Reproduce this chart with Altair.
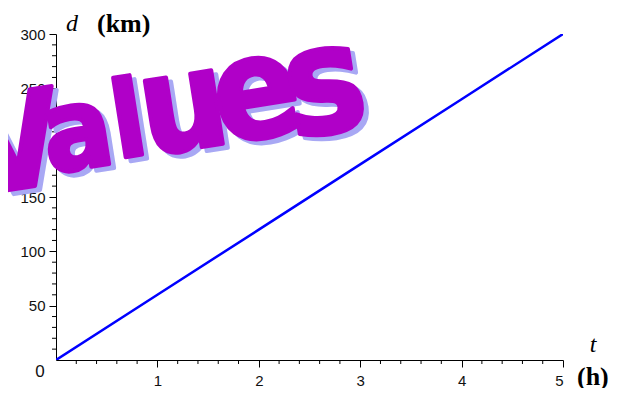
import altair as alt
import pandas as pd

# ---- data ----
t_hours = [0, 1, 2, 3, 4, 5]
d_km = [0, 60, 120, 180, 240, 300]

x_major = [1, 2, 3, 4, 5]
x_minor = [0.2, 0.4, 0.6, 0.8, 1.2, 1.4, 1.6, 1.8, 2.2, 2.4, 2.6, 2.8,
           3.2, 3.4, 3.6, 3.8, 4.2, 4.4, 4.6, 4.8]
y_major = [50, 100, 150, 200, 250, 300]
y_minor = [10, 20, 30, 40, 60, 70, 80, 90, 110, 120, 130, 140, 160, 170, 180, 190,
           210, 220, 230, 240, 260, 270, 280, 290]

wordart_letters = ["V", "a", "l", "u", "e", "s"]

# ---- styling / layout (pixels relative to the plot area) ----
W, H = 507, 326
LETTER_LAYOUT = [  # (x, y baseline, font size)
    (-34, 154, 132),
    (27, 134, 114),
    (78, 122, 106),
    (134, 115, 136),
    (207, 103, 142),
    (276, 98, 150),
]
WA_FONT = "Liberation Sans Narrow, DejaVu Sans Condensed, Liberation Sans"
PURPLE = "#B000C8"
SHADOW = "#A8A8F4"
LABEL_FONT = "Liberation Sans"

df = pd.DataFrame({"t": t_hours, "d": d_km})

common = dict(title=None, grid=False, domainColor="black", tickColor="black",
              labelFont=LABEL_FONT, labelFontSize=15, labelColor="#111",
              labelOverlap=False)

x_scale = alt.Scale(domain=[0, 5], nice=False)
y_scale = alt.Scale(domain=[0, 300], nice=False)
x_axis = alt.Axis(values=x_major, tickSize=7, labelPadding=6, format="d", **common)
y_axis = alt.Axis(values=y_major, tickSize=7, labelPadding=4, **common)
X = alt.X("t:Q", scale=x_scale, axis=x_axis)
Y = alt.Y("d:Q", scale=y_scale, axis=y_axis)

line = alt.Chart(df).mark_line(color="#0000FF", strokeWidth=2.5, clip=True).encode(x=X, y=Y)

x_minor_ticks = alt.Chart(pd.DataFrame({"t": x_minor})).mark_rule(
    color="black", strokeWidth=1
).encode(x=X, y=alt.value(H), y2=alt.value(H + 4))

y_minor_ticks = alt.Chart(pd.DataFrame({"d": y_minor})).mark_rule(
    color="black", strokeWidth=1
).encode(y=Y, x=alt.value(-4), x2=alt.value(0))

origin = alt.Chart(pd.DataFrame({"t": [t_hours[0]], "d": [d_km[0]], "lab": ["0"]})).mark_text(
    font=LABEL_FONT, fontSize=17, color="#111", dx=-16, dy=12
).encode(x=X, y=Y, text="lab:N")

def txt(s, x, y, size, color, font, weight="normal", style="normal", angle=0,
        align="center", baseline="middle", stroke_w=0):
    kw = {}
    if stroke_w:
        kw = dict(stroke=color, strokeWidth=stroke_w, strokeJoin="round")
    return alt.Chart(pd.DataFrame({"s": [s]})).mark_text(
        font=font, fontSize=size, color=color, fontWeight=weight, fontStyle=style,
        angle=angle, align=align, baseline=baseline, **kw
    ).encode(x=alt.value(x), y=alt.value(y), text="s:N")

titles = [
    txt("d", 16, -10, 24, "black", "Liberation Serif", style="italic"),
    txt("(km)", 41, -10, 26, "black", "Liberation Serif", weight="bold", align="left"),
    txt("t", 537, 311, 24, "black", "Liberation Serif", style="italic"),
    txt("(h)", 521, 343, 26, "black", "Liberation Serif", weight="bold", align="left"),
]

shadows = []
letters = []
for ch, (lx, ly, ls) in zip(wordart_letters, LETTER_LAYOUT):
    shadows.append(txt(ch, lx + 5, ly + 4, ls, SHADOW, WA_FONT, weight="bold",
                       angle=351, baseline="alphabetic", stroke_w=4))
    letters.append(txt(ch, lx, ly, ls, PURPLE, WA_FONT, weight="bold",
                       angle=351, baseline="alphabetic", stroke_w=4))

chart = alt.layer(line, x_minor_ticks, y_minor_ticks, origin, *titles, *shadows, *letters).properties(
    width=W, height=H,
    autosize=alt.AutoSizeParams(type="none"),
    padding={"left": 48, "top": 26, "right": 52, "bottom": 28},
).configure(background="white").configure_view(stroke=None)

chart.save("out.html", embed_options={"renderer": "svg", "actions": False})
